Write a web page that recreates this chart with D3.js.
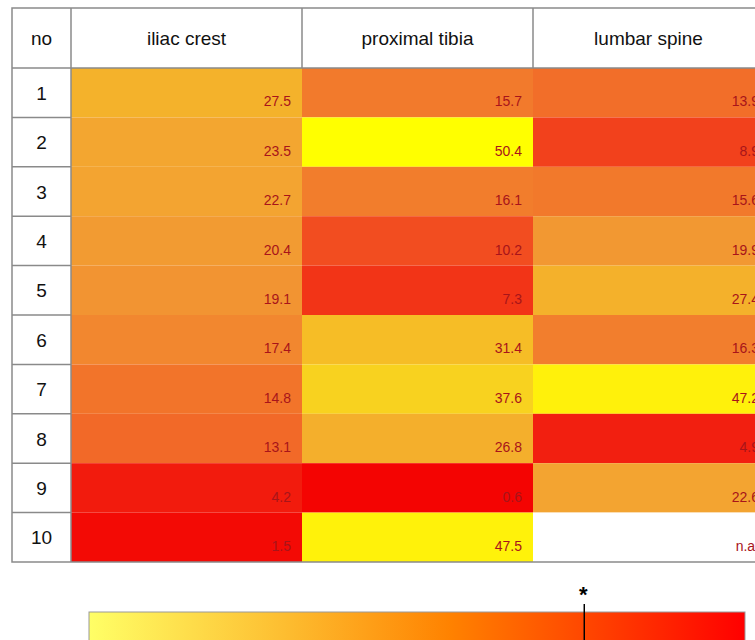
<!DOCTYPE html>
<html>
<head>
<meta charset="utf-8">
<script src="https://cdnjs.cloudflare.com/ajax/libs/d3/7.8.5/d3.min.js"></script>
<style>
	body { margin: 0; background: #fff; }
	svg { display: block; }
</style>
</head>
<body>
<svg id="tbl" width="755" height="640"></svg>
<script>
var sites = ['iliac crest', 'proximal tibia', 'lumbar spine'];
var patients = [1, 2, 3, 4, 5, 6, 7, 8, 9, 10];
var iliac = [27.5, 23.5, 22.7, 20.4, 19.1, 17.4, 14.8, 13.1, 4.2, 1.5];
var tibia = [15.7, 50.4, 16.1, 10.2, 7.3, 31.4, 37.6, 26.8, 0.6, 47.5];
var lumbar = [13.9, 8.9, 15.6, 19.9, 27.4, 16.3, 47.2, 4.9, 22.6, null];
var marker_value = 0.755; // position on the colour bar, 0..1

var series = [iliac, tibia, lumbar];

// cell colour scale: low = red, high = yellow
var cell_color = d3.scaleLinear()
	.domain([0, 5, 9, 13, 16, 19, 22, 27, 31, 37, 47, 50.4])
	.range(['#f40000', '#f22010', '#f2421c', '#f26828', '#f27c2c', '#f29432', '#f3a232', '#f4b02c', '#f6bc26', '#f8d020', '#fff00c', '#ffff00'])
	.clamp(true);

var svg_elem = d3.select('#tbl');
var font = 'Liberation Sans, Arial, sans-serif';
var grid = '#8a8a8a';

var left = 12, top_y = 8, header_h = 60;
var col_edges = [71, 302, 533, 770];
var y_scale = d3.scaleBand().domain(patients).range([top_y + header_h, 562]);
var col_x = i => col_edges[i], col_w = i => col_edges[i+1] - col_edges[i];

// cells
var cells = [];
series.forEach(function(vals, ci)  {
	vals.forEach(function(v, ri)  { cells.push({col: ci, row: patients[ri], value: v}); });
});

svg_elem.selectAll('.cell').data(cells).enter().append('rect').attr('class', 'cell')
	.attr('x', d => col_x(d.col)).attr('y', d => y_scale(d.row))
	.attr('width', d => col_w(d.col)).attr('height', y_scale.bandwidth())
	.attr('fill', d => d.value == null ? '#fff' : cell_color(d.value));

svg_elem.selectAll('.val').data(cells).enter().append('text').attr('class', 'val')
	.attr('x', d => col_x(d.col) + col_w(d.col) - 11)
	.attr('y', d => y_scale(d.row) + y_scale.bandwidth() - 11)
	.attr('text-anchor', 'end').attr('font-family', font).attr('font-size', 14)
	.attr('fill', '#a8141a')
	.text(d => d.value == null ? 'n.a.' : d.value.toFixed(1));

// header
svg_elem.append('rect').attr('x', left).attr('y', top_y).attr('width', col_edges[3] - left).attr('height', header_h)
	.attr('fill', '#fff');
svg_elem.append('text').attr('x', (left + col_edges[0]) / 2).attr('y', top_y + header_h / 2 + 7)
	.attr('text-anchor', 'middle').attr('font-family', font).attr('font-size', 19).attr('fill', '#111').text('no');
svg_elem.selectAll('.hdr').data(sites).enter().append('text').attr('class', 'hdr')
	.attr('x', (d, i) => col_x(i) + col_w(i) / 2 - (i == 2 ? 3 : 0)).attr('y', top_y + header_h / 2 + 7)
	.attr('text-anchor', 'middle').attr('font-family', font).attr('font-size', 19).attr('fill', '#111').text(d => d);

// row numbers
svg_elem.selectAll('.rowno').data(patients).enter().append('text').attr('class', 'rowno')
	.attr('x', (left + col_edges[0]) / 2).attr('y', d => y_scale(d) + y_scale.bandwidth() / 2 + 7)
	.attr('text-anchor', 'middle').attr('font-family', font).attr('font-size', 19).attr('fill', '#111').text(d => d);

// grid lines
var lines = svg_elem.append('g').attr('stroke', grid).attr('stroke-width', 1.5).attr('fill', 'none');
lines.append('rect').attr('x', left).attr('y', top_y).attr('width', col_edges[3] - left).attr('height', 562 - top_y);
lines.append('line').attr('x1', left).attr('x2', col_edges[3]).attr('y1', top_y + header_h).attr('y2', top_y + header_h);
lines.append('line').attr('x1', col_edges[0]).attr('x2', col_edges[0]).attr('y1', top_y).attr('y2', 562);
[1, 2].forEach(function(i)  {
	lines.append('line').attr('x1', col_edges[i]).attr('x2', col_edges[i]).attr('y1', top_y).attr('y2', top_y + header_h);
});
patients.slice(1).forEach(function(p)  {
	lines.append('line').attr('x1', left).attr('x2', col_edges[0]).attr('y1', y_scale(p)).attr('y2', y_scale(p));
});

// colour bar
var bar_x = d3.scaleLinear().domain([0, 1]).range([89, 745]);
var bar_stops = [0, 0.3, 0.55, 0.8, 1];
var bar_colors = ['#ffff66', '#fdbd30', '#ff8200', '#ff3a00', '#ff0000'];
var grad = svg_elem.append('defs').append('linearGradient').attr('id', 'bar_grad');
grad.selectAll('stop').data(bar_stops).enter().append('stop')
	.attr('offset', d => d * 100 + '%').attr('stop-color', (d, i) => bar_colors[i]);
svg_elem.append('rect').attr('x', bar_x(0)).attr('y', 612).attr('width', bar_x(1) - bar_x(0)).attr('height', 40)
	.attr('fill', 'url(#bar_grad)').attr('stroke', '#999').attr('stroke-width', 1);
svg_elem.append('line').attr('x1', bar_x(marker_value)).attr('x2', bar_x(marker_value)).attr('y1', 604).attr('y2', 650)
	.attr('stroke', '#000').attr('stroke-width', 1.5);
svg_elem.append('text').attr('x', bar_x(marker_value) - 1).attr('y', 602).attr('text-anchor', 'middle')
	.attr('font-family', font).attr('font-size', 22).attr('font-weight', 'bold').attr('fill', '#000').text('*');
</script>
</body>
</html>
